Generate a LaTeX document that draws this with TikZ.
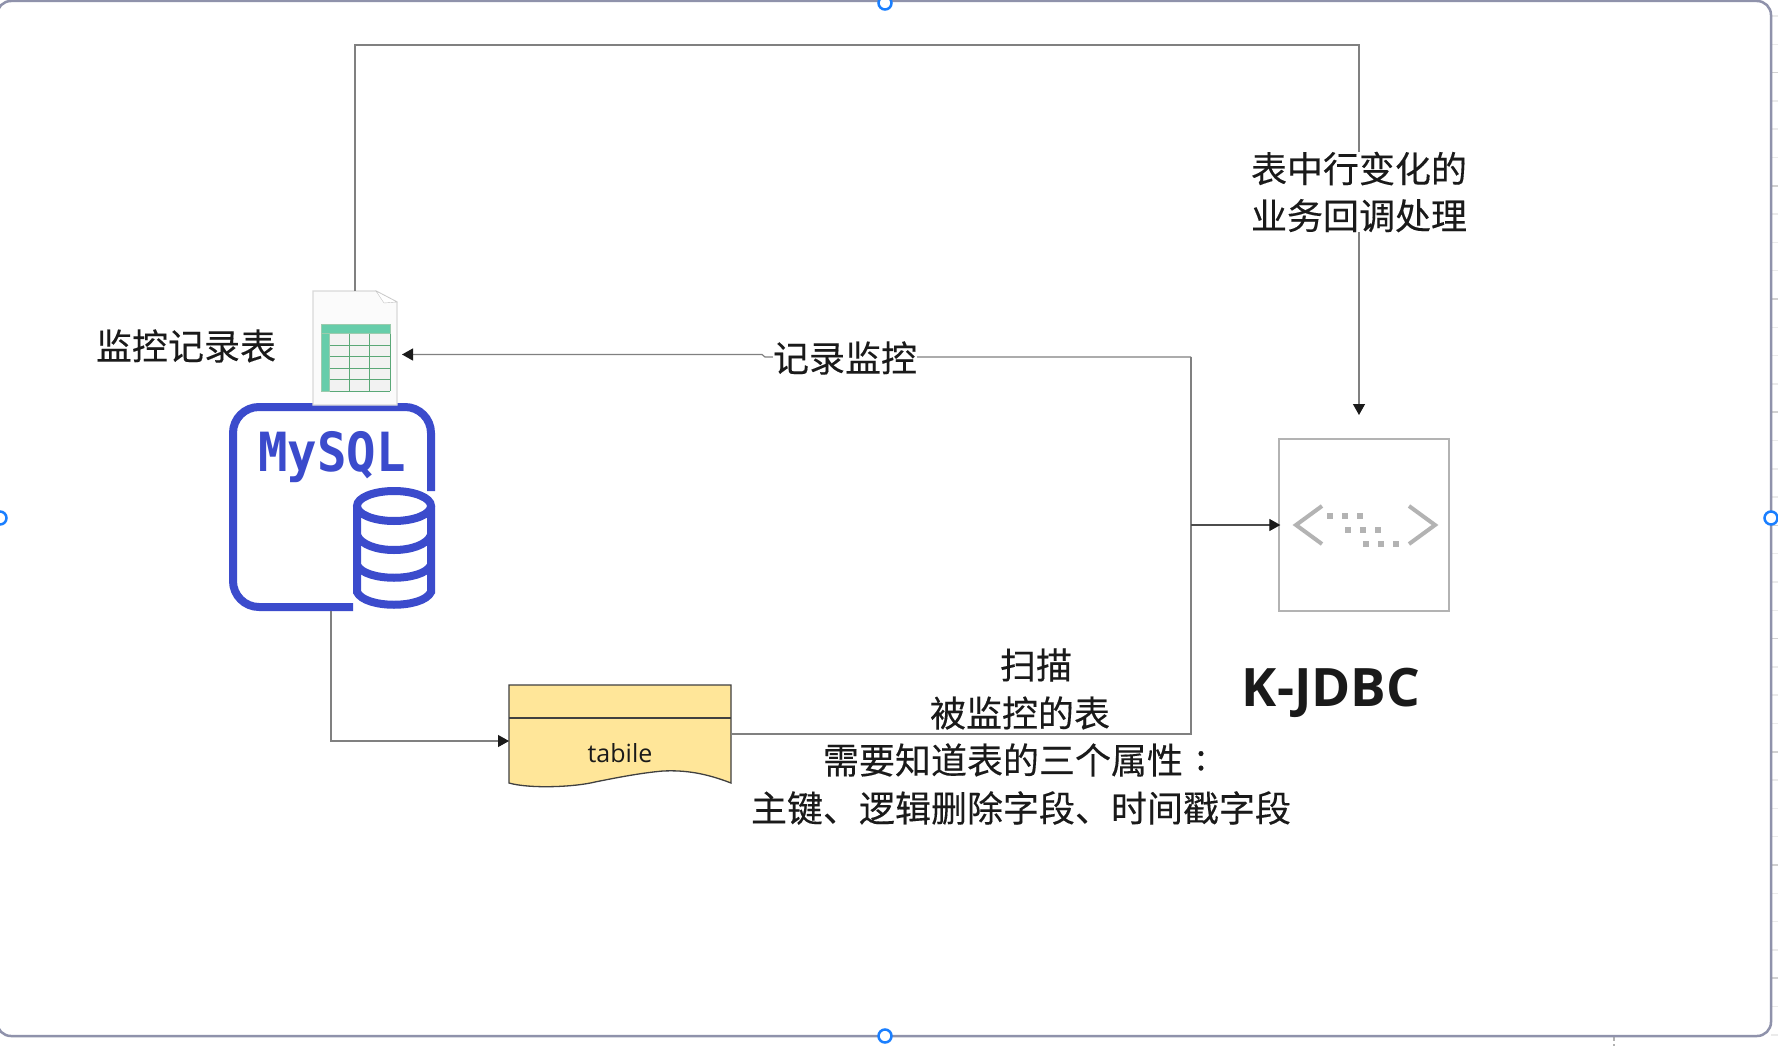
\documentclass[tikz,border=0pt]{standalone}
\usepackage{fontspec}
\setmainfont[FakeBold=0.25]{Noto Sans CJK SC}
\newfontfamily\monofam{DejaVu Sans Mono}
\newfontfamily\latinfam{Open Sans}
\usetikzlibrary{arrows.meta,positioning}
\definecolor{mysqlblue}{HTML}{3B4BCC}
\definecolor{framegray}{HTML}{8F92AB}
\definecolor{linegray}{HTML}{808080}
\definecolor{inkblack}{HTML}{1A1A1A}
\definecolor{iconmint}{HTML}{66CDAA}
\definecolor{icongreen}{HTML}{5AA877}
\definecolor{iconcell}{HTML}{F2F2F2}
\definecolor{jdbcgray}{HTML}{B3B3B3}
\definecolor{notefill}{HTML}{FFE699}
\definecolor{handleblue}{HTML}{1A7FFF}
\tikzstyle{link}=[line width=1.2pt,draw=linegray]
\tikzstyle{linkto}=[link,-{Triangle[length=11pt,width=12pt,color=inkblack]}]
\tikzstyle{caption}=[text=inkblack,font=\fontsize{36}{47}\selectfont,align=center,inner sep=0pt]
\tikzstyle{handle}=[circle,draw=handleblue,fill=white,line width=2.5pt,minimum size=13pt,inner sep=0pt]
\tikzstyle{dbline}=[draw=mysqlblue,line width=8pt]
\tikzstyle{dot}=[fill=jdbcgray,draw=none,minimum size=6.5pt,inner sep=0pt]
\begin{document}
\begin{tikzpicture}[x=1pt,y=-1pt]
\useasboundingbox (0,0) rectangle (1778,1046);
\clip (0,0) rectangle (1778,1046);
        % ruler ticks
        \foreach \n in {0,...,36}{
          \pgfmathtruncatemacro{\m}{mod(\n,4)}
          \ifnum\m=2 \def\tick{black!18}\else \def\tick{black!8}\fi
          \draw [\tick,line width=1.5pt] (1771,16+28.3*\n) -- (1778,16+28.3*\n);
        }
        \fill [black!30] (1613,1037) rectangle (1615,1041);
        \fill [black!30] (1613,1044) rectangle (1615,1046);
        % frame
        \draw [framegray,line width=2.5pt,fill=white,rounded corners=14pt] (-3,1) rectangle (1771,1036);
        \foreach \name/\x/\y in {handleT/885/3, handleL/0/518, handleR/1771/518, handleB/885/1036}{
          \node[handle] (\name) at (\x,\y) {};
        }

        % scanner box
        \node[draw=jdbcgray,line width=1.3pt,minimum width=170pt,minimum height=172pt,inner sep=0pt] (jdbc) at (1364,525) {};
        \draw [jdbcgray,line width=4pt] (1322,506) -- (1296,525) -- (1322,544);
        \draw [jdbcgray,line width=4pt] (1409,506) -- (1435,525) -- (1409,544);
        \foreach \x/\y in {1330/516, 1345/516, 1360/516, 1348/530, 1363/530, 1378/530, 1366/544, 1381/544, 1396/544}{
          \node[dot] at (\x,\y) {};
        }
        \node[text=inkblack,font=\latinfam\bfseries\fontsize{53}{53}\selectfont,inner sep=0pt] (kjdbc) at (1331,693) {K-JDBC};

        % junctions on the bus
        \coordinate (busT) at (1191,357);
        \coordinate (busJ) at (1191,525);
        \coordinate (busB) at (1191,734);
        \coordinate (bend1) at (765,357);
        \coordinate (bend2) at (762,354.5);
        \coordinate (docin) at (402,354.5);
        \coordinate (topL) at (355,45);
        \coordinate (topR) at (1359,45);
        \coordinate (jdbcin) at (1359,415);
        \coordinate (docout) at (355,291);

        % database
        \draw [dbline,rounded corners=26pt] (431,491) -- (431,407) -- (233,407) -- (233,607) -- (353,607);
        \draw [dbline] (394,506) ellipse [x radius=37,y radius=15];
        \draw [dbline] (357,506) -- (357,592) .. controls (365,609) and (423,609) .. (431,592) -- (431,506);
        \draw [dbline] (357,535) .. controls (365,555) and (423,555) .. (431,535);
        \draw [dbline] (357,565) .. controls (365,582) and (423,582) .. (431,565);
        \node[text=mysqlblue,font=\monofam\bfseries\fontsize{50}{50}\selectfont,inner sep=0pt] (mysql) at (332,457) {\scalebox{0.98}[1.08]{MySQL}};
        \coordinate (dbout) at (331,611);

        % monitor table file
        \draw [black!15,line width=1.3pt,fill=black!1.5] (313,291) -- (376,291) -- (397,302) -- (397,405) -- (313,405) -- cycle;
        \draw [black!25,fill=white] (376,291) -- (384,303) -- (397,302) -- cycle;
        \fill [iconcell] (329,333) rectangle (390,391);
        \foreach \y in {345,356,368,379,391}
          \draw [icongreen,line width=0.9pt] (329,\y) -- (390,\y);
        \foreach \x in {349,369,390}
          \draw [icongreen,line width=0.9pt] (\x,333) -- (\x,391);
        \fill [iconmint,draw=icongreen!60] (321,324) rectangle (329,391);
        \fill [iconmint,draw=icongreen!60] (321,324) rectangle (390,333);
        \node[caption] (filelabel) at (186,346) {监控记录表};

        % watched table
        \draw [black!75,line width=1.3pt,fill=notefill] (509,685) -- (731,685) -- (731,783)
          .. controls (705,773) and (685,770) .. (663,771)
          .. controls (640,773) and (615,778) .. (595,782)
          .. controls (575,787) and (530,789) .. (509,783) -- cycle;
        \draw [black!75,line width=1.3pt] (509,718) -- (731,718);
        \node[text=inkblack,font=\latinfam\fontsize{25}{25}\selectfont,inner sep=0pt] (tabile) at (620,753) {tabile};
        \coordinate (tablein) at (509,741);
        \coordinate (tableout) at (731,734);

        % connectors
        \draw [linkto] (dbout) |- (tablein);
        \draw [link] (tableout) -- (busB) -- (busT);
        \draw [linkto] (busT) -- (bend1) -- (bend2) -- (docin);
        \draw [linkto,draw=black!70,shorten >=-2pt] (busJ) -- (jdbc.west);
        \draw [linkto] (docout) -- (topL) -- (topR) -- (jdbcin);

        % labels
        \node[caption,fill=white] (calllabel) at (1359,192) {表中行变化的\\业务回调处理};
        \node[caption,fill=white] (monitorlabel) at (845,358) {记录监控};
        \node[caption] (scanlabel) at (1036,665) {扫描};
        \node[caption] (watchlabel) at (1020,713) {被监控的表};
        \node[caption] (needlabel) at (1021,760) {需要知道表的三个属性\makebox[36pt][c]{\raisebox{0.1em}{:}}};
        \node[caption] (fieldlabel) at (1021,808) {主键、逻辑删除字段、时间戳字段};
      \end{tikzpicture}
\end{document}
